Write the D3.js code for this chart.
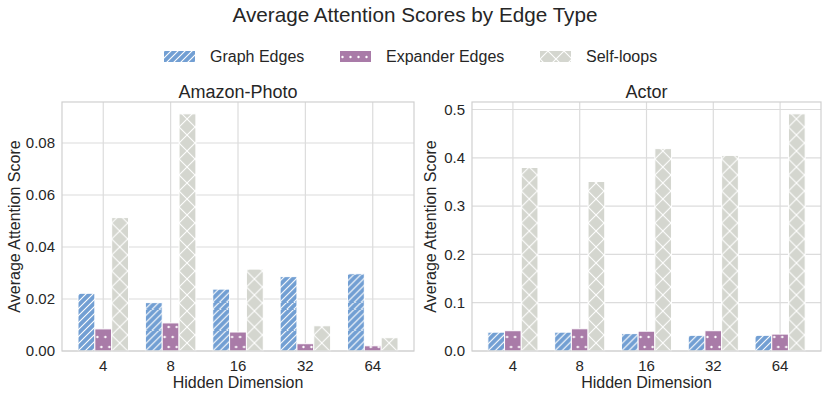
<!DOCTYPE html>
<html>
<head>
<meta charset="utf-8">
<script src="https://cdn.jsdelivr.net/npm/d3@7"></script>
<style>
  body { margin: 0; background: #fff; }
  text { font-family: "Liberation Sans", Arial, sans-serif; fill: #262626; }
</style>
</head>
<body>
<div id="chart"></div>
<script>
var svgWidth = 830;
var svgHeight = 397;

// chart data
var dims = ["4", "8", "16", "32", "64"];
var seriesNames = ["Graph Edges", "Expander Edges", "Self-loops"];

var photoGraph = [0.0222, 0.0186, 0.0238, 0.0286, 0.0297];
var photoExpander = [0.0085, 0.0108, 0.0073, 0.0028, 0.0020];
var photoSelf = [0.0513, 0.0912, 0.0315, 0.0097, 0.0051];

var actorGraph = [0.039, 0.039, 0.036, 0.0325, 0.0325];
var actorExpander = [0.042, 0.046, 0.041, 0.042, 0.035];
var actorSelf = [0.380, 0.351, 0.419, 0.405, 0.491];

var photoTicks = [0.00, 0.02, 0.04, 0.06, 0.08];
var actorTicks = [0.0, 0.1, 0.2, 0.3, 0.4, 0.5];

var colors = ["#729fd3", "#a97ba8", "#d4d6cf"];

var svg = d3.select("#chart")
  .append("svg")
  .attr("width", svgWidth)
  .attr("height", svgHeight);

var defs = svg.append("defs");
var patCount = 0;

// make a hatch pattern anchored at (x0, y0) so each bar gets the same look
function makePattern(kind, x0, y0) {
  var id = "pat" + (patCount++);
  var p = defs.append("pattern")
    .attr("id", id)
    .attr("patternUnits", "userSpaceOnUse")
    .attr("x", x0).attr("y", y0);
  if (kind === 0) {
    p.attr("width", 7).attr("height", 7);
    p.append("rect").attr("width", 7).attr("height", 7).attr("fill", colors[0]);
    p.append("path")
      .attr("d", "M-1,8 L8,-1 M-4.5,4.5 L4.5,-4.5 M2.5,11.5 L11.5,2.5")
      .attr("stroke", "#fff").attr("stroke-width", 1.1);
  } else if (kind === 1) {
    p.attr("width", 8).attr("height", 20);
    p.append("rect").attr("width", 8).attr("height", 20).attr("fill", colors[1]);
    p.append("circle").attr("cx", 2.5).attr("cy", 6).attr("r", 1.2).attr("fill", "#fff");
    p.append("circle").attr("cx", 6.5).attr("cy", 16).attr("r", 1.2).attr("fill", "#fff");
  } else {
    p.attr("width", 16).attr("height", 16);
    p.append("rect").attr("width", 16).attr("height", 16).attr("fill", colors[2]);
    p.append("path")
      .attr("d", "M0,0 L16,16 M16,0 L0,16")
      .attr("stroke", "#fff").attr("stroke-width", 1.1);
  }
  return "url(#" + id + ")";
}

// main title
svg.append("text")
  .attr("x", 415)
  .attr("y", 22)
  .attr("text-anchor", "middle")
  .attr("font-size", "20.7px")
  .text("Average Attention Scores by Edge Type");

// legend
var legendX = [164, 340, 540];
var legend = svg.append("g");
seriesNames.forEach(function(name, i) {
  legend.append("rect")
    .attr("x", legendX[i])
    .attr("y", 51)
    .attr("width", 31)
    .attr("height", 11)
    .attr("fill", makePattern(i, legendX[i], 51 - (i === 2 ? 8 : 0)));
  legend.append("text")
    .attr("x", legendX[i] + 46)
    .attr("y", 62)
    .attr("font-size", "16px")
    .text(name);
});

function drawPanel(opts) {
  var left = opts.left, right = opts.right, top = 102, bottom = 351;
  var g = svg.append("g");

  var x = d3.scaleLinear()
    .domain([-0.6125, dims.length - 1 + 0.6125])
    .range([left, right]);

  var yMax = d3.max(opts.series, s => d3.max(s)) * 1.05;
  var y = d3.scaleLinear()
    .domain([0, yMax])
    .range([bottom, top]);

  // grid
  g.selectAll(".hgrid")
    .data(opts.ticks)
    .enter()
    .append("line")
    .attr("x1", left).attr("x2", right)
    .attr("y1", d => y(d)).attr("y2", d => y(d))
    .attr("stroke", "#dcdcdc").attr("stroke-width", 1.2);

  g.selectAll(".vgrid")
    .data(dims)
    .enter()
    .append("line")
    .attr("x1", (d, i) => x(i)).attr("x2", (d, i) => x(i))
    .attr("y1", top).attr("y2", bottom)
    .attr("stroke", "#dcdcdc").attr("stroke-width", 1.2);

  // bars
  var barW = 0.25;
  opts.series.forEach(function(vals, s) {
    g.selectAll(".bar" + s)
      .data(vals)
      .enter()
      .append("rect")
      .attr("x", (d, i) => x(i + (s - 1) * barW - barW / 2))
      .attr("width", x(barW) - x(0))
      .attr("y", d => y(d))
      .attr("height", d => bottom - y(d))
      .attr("fill", (d, i) => makePattern(s, x(i + (s - 1) * barW - barW / 2), bottom))
      .attr("stroke", "#fff")
      .attr("stroke-width", 1);
  });

  // frame
  g.append("rect")
    .attr("x", left).attr("y", top)
    .attr("width", right - left).attr("height", bottom - top)
    .attr("fill", "none")
    .attr("stroke", "#d0d0d0").attr("stroke-width", 1.2);

  // tick labels
  g.selectAll(".ytick")
    .data(opts.ticks)
    .enter()
    .append("text")
    .attr("x", left - 7)
    .attr("y", d => y(d))
    .attr("dy", "0.35em")
    .attr("text-anchor", "end")
    .attr("font-size", "15px")
    .text(d => d3.format(opts.fmt)(d));

  g.selectAll(".xtick")
    .data(dims)
    .enter()
    .append("text")
    .attr("x", (d, i) => x(i))
    .attr("y", 371)
    .attr("text-anchor", "middle")
    .attr("font-size", "15px")
    .text(d => d);

  // titles and labels
  g.append("text")
    .attr("x", (left + right) / 2)
    .attr("y", 98)
    .attr("text-anchor", "middle")
    .attr("font-size", "18px")
    .text(opts.title);

  g.append("text")
    .attr("x", (left + right) / 2)
    .attr("y", 388)
    .attr("text-anchor", "middle")
    .attr("font-size", "16px")
    .text("Hidden Dimension");

  g.append("text")
    .attr("transform", "rotate(-90)")
    .attr("x", -(top + bottom) / 2)
    .attr("y", opts.ylabelX)
    .attr("text-anchor", "middle")
    .attr("font-size", "16px")
    .text("Average Attention Score");
}

drawPanel({
  title: "Amazon-Photo",
  left: 62, right: 414,
  series: [photoGraph, photoExpander, photoSelf],
  ticks: photoTicks,
  fmt: ".2f",
  ylabelX: 20
});

drawPanel({
  title: "Actor",
  left: 472, right: 821,
  series: [actorGraph, actorExpander, actorSelf],
  ticks: actorTicks,
  fmt: ".1f",
  ylabelX: 436
});
</script>
</body>
</html>
